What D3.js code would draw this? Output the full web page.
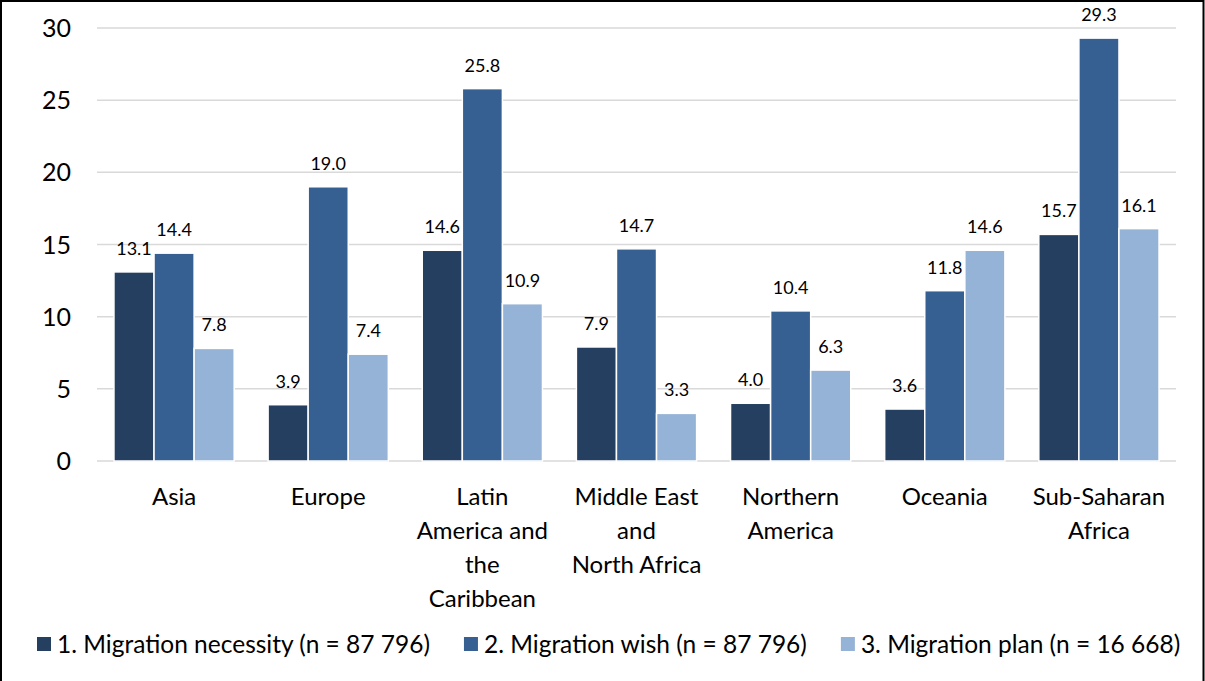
<!DOCTYPE html>
<html>
<head>
<meta charset="utf-8">
<script src="https://cdn.jsdelivr.net/npm/d3@7"></script>
<style>
  body { margin: 0; background: #fff; }
  svg { display: block; font-family: Lato, "Open Sans", sans-serif; }
</style>
</head>
<body>
<svg></svg>
<script>
const width = 1205;
const height = 681;
const svg = d3.select("svg").attr("width", width).attr("height", height);

const categories = [
  ["Asia"],
  ["Europe"],
  ["Latin", "America and", "the", "Caribbean"],
  ["Middle East", "and", "North Africa"],
  ["Northern", "America"],
  ["Oceania"],
  ["Sub-Saharan", "Africa"]
];
const seriesNames = [
  "1. Migration necessity (n = 87 796)",
  "2. Migration wish (n = 87 796)",
  "3. Migration plan (n = 16 668)"
];
const necessity = [13.1, 3.9, 14.6, 7.9, 4.0, 3.6, 15.7];
const wish = [14.4, 19.0, 25.8, 14.7, 10.4, 11.8, 29.3];
const plan = [7.8, 7.4, 10.9, 3.3, 6.3, 14.6, 16.1];
const yTicks = [0, 5, 10, 15, 20, 25, 30];

const colors = ["#253f60", "#366092", "#95b3d7"];
const series = [necessity, wish, plan];

const margin = { left: 97, right: 29, top: 28, bottom: 220 };
const x0 = d3.scaleBand()
  .domain(d3.range(categories.length))
  .range([margin.left, width - margin.right])
  .paddingInner(0.22)
  .paddingOuter(0.11);
const x1 = d3.scaleBand().domain([0, 1, 2]).range([0, x0.bandwidth()]);
const y = d3.scaleLinear().domain([0, 30]).range([height - margin.bottom, margin.top]);

// gridlines
svg.append("g")
  .selectAll("line")
  .data(yTicks)
  .join("line")
  .attr("x1", margin.left)
  .attr("x2", width - margin.right)
  .attr("y1", d => y(d))
  .attr("y2", d => y(d))
  .attr("stroke", "#d9d9d9")
  .attr("stroke-width", 1.5);

// y axis labels
svg.append("g")
  .selectAll("text")
  .data(yTicks)
  .join("text")
  .attr("x", 71)
  .attr("y", d => y(d))
  .attr("dy", "0.36em")
  .attr("text-anchor", "end")
  .attr("font-size", 25)
  .attr("fill", "#000")
  .text(d => d);

// bars
const groups = svg.append("g")
  .selectAll("g")
  .data(categories.map((c, i) => i))
  .join("g")
  .attr("transform", i => `translate(${x0(i)},0)`);

groups.selectAll("rect")
  .data(i => series.map((s, k) => ({ k, v: s[i] })))
  .join("rect")
  .attr("x", d => x1(d.k))
  .attr("y", d => y(d.v))
  .attr("width", x1.bandwidth())
  .attr("height", d => y(0) - y(d.v))
  .attr("fill", d => colors[d.k])
  .attr("stroke", "#fff")
  .attr("stroke-width", 1.5);

groups.selectAll("text.val")
  .data(i => series.map((s, k) => ({ k, v: s[i] })))
  .join("text")
  .attr("class", "val")
  .attr("x", d => x1(d.k) + x1.bandwidth() / 2)
  .attr("y", d => y(d.v) - 17)
  .attr("text-anchor", "middle")
  .attr("font-size", 18)
  .attr("fill", "#000")
  .text(d => d.v.toFixed(1));

// category labels
const catLabels = svg.append("g")
  .selectAll("text")
  .data(categories)
  .join("text")
  .attr("x", (d, i) => x0(i) + x0.bandwidth() / 2)
  .attr("y", 505)
  .attr("text-anchor", "middle")
  .attr("font-size", 24)
  .attr("fill", "#000");
catLabels.selectAll("tspan")
  .data(d => d)
  .join("tspan")
  .attr("x", function () { return this.parentNode.getAttribute("x"); })
  .attr("dy", (d, j) => j === 0 ? 0 : 34)
  .text(d => d);

// legend
const legend = svg.append("g").attr("transform", "translate(0,644)");
let lx = 37;
seriesNames.forEach((name, k) => {
  legend.append("rect")
    .attr("x", lx)
    .attr("y", -7)
    .attr("width", 14)
    .attr("height", 14)
    .attr("fill", colors[k]);
  const t = legend.append("text")
    .attr("x", lx + 20)
    .attr("dy", "0.36em")
    .attr("font-size", 24.5)
    .attr("fill", "#000")
    .text(name);
  lx += 20 + t.node().getComputedTextLength() + 34;
});

// frame
svg.append("path")
  .attr("d", `M1,${height} V1 H${width - 1.5} V${height}`)
  .attr("fill", "none")
  .attr("stroke", "#000")
  .attr("stroke-width", 2);
</script>
</body>
</html>
